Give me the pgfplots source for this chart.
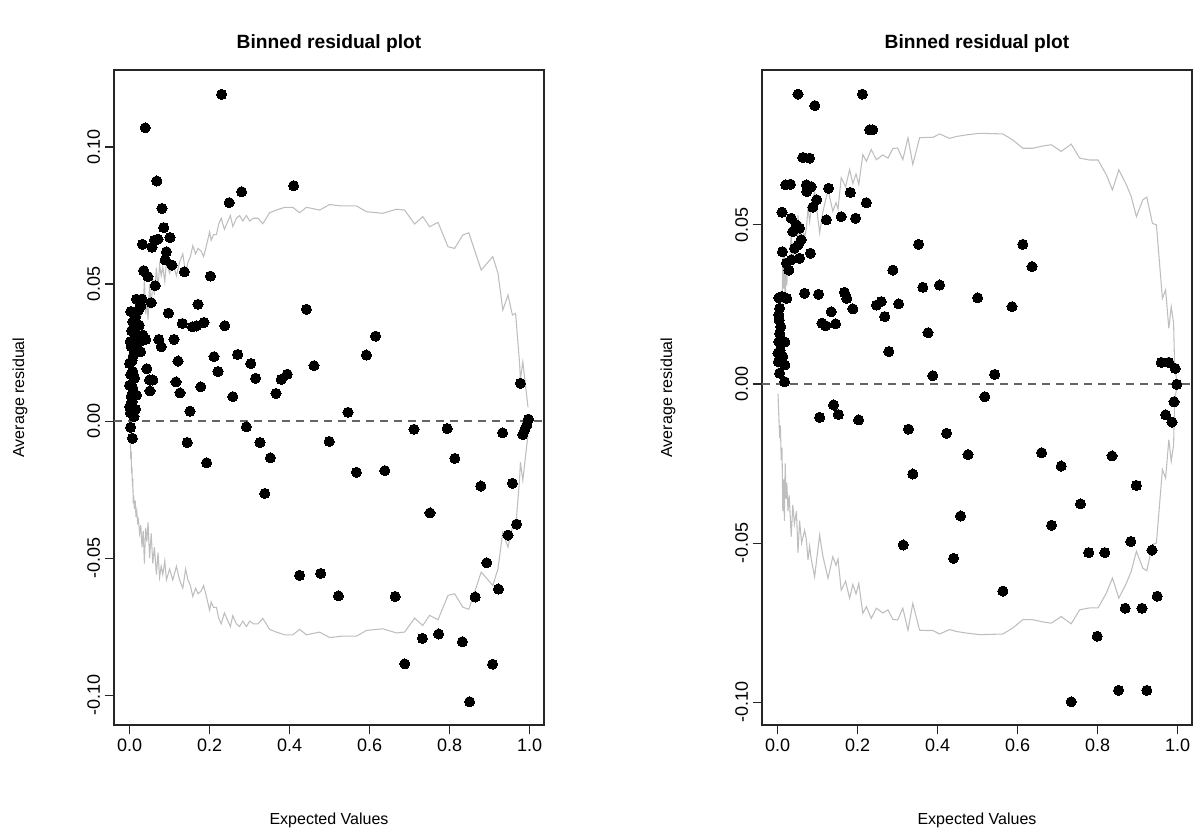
\documentclass[border=0pt]{standalone}
\usepackage{pgfplots}
\pgfplotsset{compat=1.18}
\usepackage{pgfplotstable}
\usepackage{fontspec}
\setmainfont{Liberation Sans}
\definecolor{bnd}{RGB}{190,190,190}
\definecolor{zl}{RGB}{100,100,100}

\pgfplotstableread{
x up lo
0.001 0.004 -0.004
0.002 0.008 -0.008
0.003 0.014 -0.014
0.004 0.011 -0.011
0.005 0.019 -0.019
0.006 0.017 -0.017
0.007 0.024 -0.024
0.008 0.021 -0.021
0.009 0.030 -0.030
0.010 0.027 -0.027
0.012 0.032 -0.032
0.014 0.029 -0.029
0.016 0.035 -0.035
0.018 0.033 -0.033
0.020 0.037 -0.037
0.022 0.036 -0.036
0.025 0.041 -0.041
0.028 0.038 -0.038
0.031 0.046 -0.046
0.034 0.040 -0.040
0.037 0.052 -0.052
0.040 0.039 -0.039
0.043 0.044 -0.044
0.046 0.037 -0.037
0.050 0.050 -0.050
0.054 0.041 -0.041
0.058 0.052 -0.052
0.062 0.046 -0.046
0.067 0.056 -0.056
0.071 0.048 -0.048
0.075 0.057 -0.057
0.079 0.053 -0.053
0.083 0.056 -0.056
0.088 0.051 -0.051
0.092 0.058 -0.058
0.100 0.054 -0.054
0.108 0.058 -0.058
0.117 0.053 -0.053
0.125 0.058 -0.058
0.133 0.061 -0.061
0.140 0.054 -0.054
0.146 0.058 -0.058
0.152 0.060 -0.060
0.158 0.064 -0.064
0.165 0.061 -0.061
0.171 0.063 -0.063
0.179 0.062 -0.062
0.185 0.060 -0.060
0.192 0.064 -0.064
0.200 0.069 -0.069
0.204 0.066 -0.066
0.210 0.068 -0.068
0.217 0.068 -0.068
0.223 0.072 -0.072
0.229 0.074 -0.074
0.237 0.070 -0.070
0.246 0.073 -0.073
0.252 0.075 -0.075
0.258 0.071 -0.071
0.267 0.074 -0.074
0.275 0.075 -0.075
0.283 0.073 -0.073
0.292 0.075 -0.075
0.300 0.073 -0.073
0.310 0.074 -0.074
0.321 0.074 -0.074
0.333 0.072 -0.072
0.350 0.076 -0.076
0.367 0.077 -0.077
0.388 0.078 -0.078
0.408 0.078 -0.078
0.425 0.076 -0.076
0.442 0.078 -0.078
0.475 0.077 -0.077
0.500 0.079 -0.079
0.530 0.0785 -0.0785
0.567 0.0785 -0.0785
0.592 0.0764 -0.0764
0.633 0.0758 -0.0758
0.667 0.0773 -0.0773
0.6875 0.077 -0.077
0.7125 0.0719 -0.0719
0.733 0.0746 -0.0746
0.750 0.0709 -0.0709
0.771 0.0725 -0.0725
0.796 0.0636 -0.0636
0.8125 0.063 -0.063
0.833 0.0679 -0.0679
0.848 0.0687 -0.0687
0.879 0.0551 -0.0551
0.908 0.060 -0.060
0.921 0.0539 -0.0539
0.933 0.0405 -0.0405
0.946 0.046 -0.046
0.957 0.0387 -0.0387
0.965 0.0393 -0.0393
0.975 0.021 -0.021
0.977 0.015 -0.015
0.983 0.0216 -0.0216
0.992 0.0101 -0.0101
0.996 0.005 -0.005
}\boundA

\pgfplotstableread{
x up lo
0.001 0.003 -0.003
0.003 0.010 -0.010
0.005 0.017 -0.017
0.007 0.013 -0.013
0.009 0.024 -0.024
0.011 0.020 -0.020
0.013 0.040 -0.040
0.015 0.030 -0.030
0.017 0.043 -0.043
0.019 0.025 -0.025
0.021 0.036 -0.036
0.023 0.031 -0.031
0.026 0.040 -0.040
0.029 0.035 -0.035
0.034 0.048 -0.048
0.038 0.038 -0.038
0.042 0.044 -0.044
0.047 0.040 -0.040
0.051 0.053 -0.053
0.055 0.043 -0.043
0.060 0.050 -0.050
0.0675 0.046 -0.046
0.072 0.049 -0.049
0.076 0.0553 -0.0553
0.080 0.051 -0.051
0.084 0.055 -0.055
0.0925 0.0606 -0.0606
0.105 0.0475 -0.0475
0.113 0.054 -0.054
0.126 0.0611 -0.0611
0.138 0.0543 -0.0543
0.146 0.057 -0.057
0.151 0.055 -0.055
0.159 0.0648 -0.0648
0.170 0.062 -0.062
0.180 0.0674 -0.0674
0.188 0.063 -0.063
0.196 0.066 -0.066
0.203 0.0627 -0.0627
0.213 0.0721 -0.0721
0.222 0.070 -0.070
0.234 0.0737 -0.0737
0.247 0.0705 -0.0705
0.263 0.072 -0.072
0.276 0.071 -0.071
0.288 0.074 -0.074
0.300 0.0742 -0.0742
0.313 0.0705 -0.0705
0.326 0.0774 -0.0774
0.338 0.069 -0.069
0.355 0.0774 -0.0774
0.372 0.0775 -0.0775
0.388 0.0775 -0.0775
0.405 0.0786 -0.0786
0.430 0.0772 -0.0772
0.447 0.0778 -0.0778
0.472 0.0783 -0.0783
0.505 0.0788 -0.0788
0.563 0.0786 -0.0786
0.588 0.0767 -0.0767
0.613 0.0741 -0.0741
0.638 0.0741 -0.0741
0.663 0.0748 -0.0748
0.684 0.0752 -0.0752
0.709 0.0731 -0.0731
0.734 0.0754 -0.0754
0.755 0.0710 -0.0710
0.780 0.0704 -0.0704
0.801 0.0704 -0.0704
0.822 0.0657 -0.0657
0.837 0.0610 -0.0610
0.853 0.0673 -0.0673
0.872 0.0626 -0.0626
0.884 0.0589 -0.0589
0.897 0.0526 -0.0526
0.913 0.0579 -0.0579
0.923 0.0587 -0.0587
0.937 0.0505 -0.0505
0.947 0.0500 -0.0500
0.962 0.0269 -0.0269
0.970 0.0296 -0.0296
0.978 0.0175 -0.0175
0.984 0.0243 -0.0243
0.990 0.0191 -0.0191
0.9925 0.0054 -0.0054
0.998 0.001 -0.001
}\boundB

\pgfplotsset{
 binned/.style={
  scale only axis, width=322.5pt, height=491.25pt,
  axis line style={black!85, line width=0.8pt},
  tick style={black!85, line width=0.8pt},
  tick align=outside, major tick length=7pt,
  tick pos=left,
  xtick={0,0.2,0.4,0.6,0.8,1}, xticklabels={0.0,0.2,0.4,0.6,0.8,1.0},
  ytick={-0.1,-0.05,0,0.05,0.1}, yticklabels={-0.10,-0.05,0.00,0.05,0.10},
  tick label style={font=\fontsize{13.5}{15}\selectfont},
  yticklabel style={rotate=90, anchor=south},
  xlabel={Expected Values}, ylabel={Average residual},
  label style={font=\fontsize{12}{14}\selectfont},
  xlabel style={at={(axis description cs:0.5,-0.145)}, anchor=center},
  ylabel style={at={(axis description cs:-0.2186,0.5)}, anchor=center},
  title={Binned residual plot},
  title style={at={(axis description cs:0.5,1.028)}, anchor=center, font=\fontsize{14.4}{16}\bfseries\selectfont},
  xmin=-0.039, xmax=1.036,
 },
 pts/.style={only marks, mark=*, mark size=3.8pt, mark options={fill=black, draw=black, line width=0pt}},
 zero/.style={zl, line width=1pt, dash pattern=on 6pt off 4.5pt},
 bd/.style={bnd, line width=0.8pt},
}

\begin{document}
\begin{tikzpicture}[x=1pt,y=1pt]
\path[use as bounding box] (0,0) rectangle (895.5,625.5);
\begin{axis}[binned, at={(85.5pt,81.75pt)}, anchor=south west, ymin=-0.1109, ymax=0.1281]
\addplot[zero] coordinates {(-0.039,0) (1.036,0)};
\addplot[bd] table[x=x, y=up] {\boundA};
\addplot[bd] table[x=x, y=lo] {\boundA};
\addplot[pts] coordinates {
(0.230,0.1192) (0.039,0.107) (0.068,0.0876) (0.410,0.0859) (0.280,0.0837)
(0.249,0.0797) (0.081,0.0776) (0.085,0.0706) (0.101,0.067) (0.071,0.0664)
(0.062,0.066) (0.032,0.0645) (0.056,0.0634) (0.092,0.0618) (0.089,0.0588)
(0.106,0.0569) (0.137,0.0545) (0.035,0.0549) (0.046,0.0527) (0.202,0.0529)
(0.064,0.0494) (0.017,0.0445) (0.031,0.0445) (0.054,0.0432) (0.171,0.0426)
(0.0225,0.0405) (0.442,0.0408) (0.097,0.0394) (0.008,0.0362) (0.021,0.035)
(0.132,0.0356) (0.157,0.0344) (0.167,0.0347) (0.186,0.036) (0.238,0.0348)
(0.0125,0.032) (0.033,0.0314) (0.040,0.0298) (0.073,0.0298) (0.111,0.0298)
(0.079,0.0271) (0.004,0.0271) (0.017,0.0259) (0.0275,0.0253) (0.211,0.0235)
(0.270,0.0243) (0.121,0.0219) (0.303,0.021) (0.461,0.0202) (0.221,0.0181)
(0.043,0.0191) (0.000,0.021) (0.008,0.018) (0.394,0.0171) (0.379,0.0152)
(0.315,0.0156) (0.050,0.015) (0.058,0.015) (0.116,0.0143) (0.0125,0.0156)
(0.000,0.0131) (0.051,0.011) (0.126,0.0103) (0.178,0.0125) (0.366,0.0101)
(0.258,0.0089) (0.017,0.0095) (0.000,0.0052) (0.015,0.0043) (0.151,0.0036)
(0.011,0.0016) (0.0025,-0.0023) (0.007,-0.0063) (0.292,-0.0021) (0.144,-0.0078)
(0.326,-0.0078) (0.352,-0.0134) (0.499,-0.0074) (0.1925,-0.0152) (0.338,-0.0264)
(0.425,-0.0563) (0.4775,-0.0556) (0.522,-0.0638) (0.615,0.031) (0.592,0.0241)
(0.977,0.0138) (0.546,0.0032) (0.711,-0.003) (0.794,-0.0027) (0.997,0.0007)
(0.993,-0.0015) (0.9875,-0.0033) (0.983,-0.0049) (0.9325,-0.0043) (0.813,-0.0136)
(0.567,-0.0187) (0.638,-0.0181) (0.878,-0.0237) (0.957,-0.0227) (0.751,-0.0335)
(0.9675,-0.0376) (0.946,-0.0416) (0.893,-0.0517) (0.664,-0.064) (0.864,-0.0642)
(0.922,-0.0613) (0.732,-0.0793) (0.7725,-0.0777) (0.832,-0.0805) (0.688,-0.0886)
(0.9075,-0.0887) (0.850,-0.1024)
(0.003,0.040) (0.005,0.033) (0.002,0.029) (0.010,0.024) (0.006,0.022)
(0.003,0.017) (0.008,0.012) (0.004,0.009) (0.006,0.007) (0.002,0.003)
(0.013,0.028) (0.020,0.031) (0.025,0.029) (0.024,0.035) (0.028,0.042) (0.015,0.038)
};
\end{axis}
\begin{axis}[binned, at={(571.5pt,81.75pt)}, anchor=south west, ymin=-0.1072, ymax=0.0987]
\addplot[zero] coordinates {(-0.039,0) (1.036,0)};
\addplot[bd] table[x=x, y=up] {\boundB};
\addplot[bd] table[x=x, y=lo] {\boundB};
\addplot[pts] coordinates {
(0.051,0.0911) (0.212,0.0911) (0.093,0.0875) (0.230,0.0799) (0.238,0.0799)
(0.063,0.0712) (0.080,0.071) (0.020,0.0626) (0.032,0.0628) (0.072,0.0626)
(0.084,0.062) (0.073,0.0605) (0.1275,0.0615) (0.182,0.0602) (0.098,0.0579)
(0.222,0.057) (0.088,0.0556) (0.011,0.054) (0.122,0.0516) (0.159,0.0526)
(0.195,0.0521) (0.034,0.0521) (0.047,0.050) (0.055,0.049) (0.038,0.0479)
(0.059,0.0453) (0.051,0.0437) (0.0425,0.0427) (0.082,0.0411) (0.012,0.0416)
(0.055,0.0395) (0.034,0.039) (0.022,0.038) (0.028,0.0358) (0.3525,0.0439)
(0.288,0.0358) (0.363,0.0304) (0.405,0.0311) (0.500,0.0271) (0.0675,0.0285)
(0.1025,0.0282) (0.003,0.0271) (0.023,0.0269) (0.167,0.0288) (0.173,0.0269)
(0.188,0.0236) (0.134,0.0227) (0.111,0.0191) (0.120,0.0183) (0.145,0.0189)
(0.247,0.0248) (0.259,0.0259) (0.3025,0.0252) (0.2675,0.0212) (0.376,0.0161)
(0.278,0.0102) (0.388,0.0026) (0.5425,0.003) (0.518,-0.004)
(0.005,0.0238) (0.003,0.0217) (0.004,0.0201) (0.008,0.018) (0.005,0.0159)
(0.003,0.0133) (0.018,0.0132) (0.001,0.0097) (0.013,0.0086) (0.002,0.007)
(0.018,0.006) (0.005,0.0034) (0.0175,0.0007) (0.010,0.0275) (0.006,0.0105)
(0.105,-0.0105) (0.140,-0.0066) (0.152,-0.0096) (0.2025,-0.0113) (0.327,-0.0142)
(0.4225,-0.0155) (0.476,-0.0222) (0.338,-0.0283) (0.4575,-0.0415) (0.314,-0.0506)
(0.440,-0.0548) (0.613,0.0439) (0.636,0.0369) (0.586,0.0243) (0.959,0.0068)
(0.978,0.0068) (0.994,0.0049) (0.998,-0.0001) (0.991,-0.0056) (0.970,-0.0097)
(0.986,-0.012) (0.660,-0.0216) (0.709,-0.0258) (0.836,-0.0226) (0.897,-0.0319)
(0.757,-0.0377) (0.685,-0.0444) (0.883,-0.0495) (0.7775,-0.053) (0.818,-0.053)
(0.936,-0.0522) (0.563,-0.0651) (0.949,-0.0667) (0.869,-0.0705) (0.911,-0.0705)
(0.799,-0.0793) (0.8525,-0.0963) (0.923,-0.0963) (0.734,-0.0999)
};
\end{axis}
\end{tikzpicture}
\end{document}
